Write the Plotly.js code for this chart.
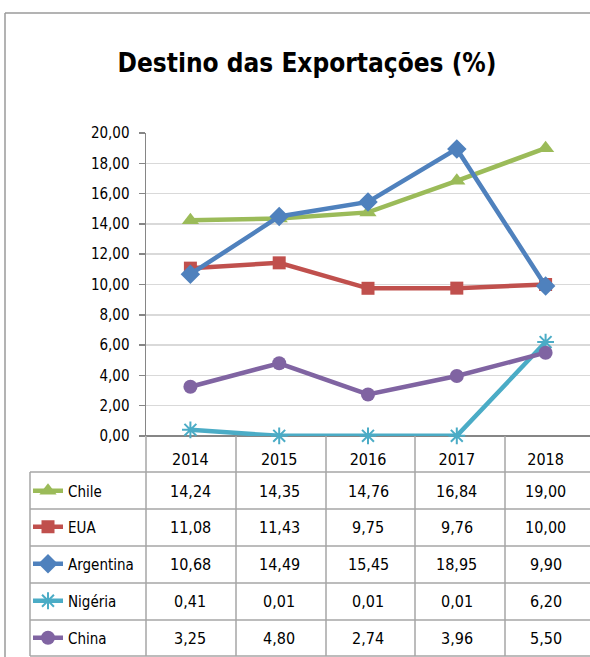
<!DOCTYPE html>
<html><head><meta charset="utf-8">
<script src="https://cdn.plot.ly/plotly-3.0.1.min.js"></script>
<style>html,body{margin:0;padding:0;background:#fff}#c{width:590px;height:657px}</style>
</head><body><div id="c"></div>
<script>
const years = ['2014','2015','2016','2017','2018'];
const seriesNames = ['Chile','EUA','Argentina','Nigéria','China'];
const chile = [14.24, 14.35, 14.76, 16.84, 19.00];
const eua = [11.08, 11.43, 9.75, 9.76, 10.00];
const argentina = [10.68, 14.49, 15.45, 18.95, 9.90];
const nigeria = [0.41, 0.01, 0.01, 0.01, 6.20];
const china = [3.25, 4.80, 2.74, 3.96, 5.50];
const yTicks = [0,2,4,6,8,10,12,14,16,18,20];

const values = [chile, eua, argentina, nigeria, china];
const colors = ['#9BBB59','#C0504D','#4F81BD','#4BACC6','#8064A2'];
const symbols = ['triangle-up','square','diamond','asterisk-open','circle'];
const msizes = [15,13,15,14,14];

const FONT = '"DejaVu Sans Condensed", "DejaVu Sans", sans-serif';
const L = 146, T = 133, PW = 444, PH = 303, W = 590, H = 657;
const px = p => (p - L) / PW;
const py = p => (T + PH - p) / PH;

const rowCenters = [491, 527, 564, 601, 638];
const traces = [];
const legends = {};
values.forEach((v, i) => {
  const lg = i === 0 ? 'legend' : 'legend' + (i + 1);
  traces.push({
    type: 'scatter', mode: 'lines+markers', x: years, y: v, name: seriesNames[i],
    line: {color: colors[i], width: 4.5},
    marker: {symbol: symbols[i], size: msizes[i], color: colors[i],
             line: {color: colors[i], width: i === 3 ? 2 : 0}},
    legend: lg, cliponaxis: false
  });
  legends[lg] = {
    x: px(28), y: py(rowCenters[i]), xanchor: 'left', yanchor: 'middle',
    bgcolor: 'rgba(0,0,0,0)', borderwidth: 0, itemwidth: 30,
    font: {family: FONT, size: 15, color: '#000'}
  };
});

const fmt = n => n.toFixed(2).replace('.', ',');
const annotations = [];
values.forEach((v, i) => {
  v.forEach((val, j) => {
    annotations.push({
      xref: 'x', yref: 'paper', x: j, y: py(rowCenters[i]),
      text: fmt(val), showarrow: false, xanchor: 'center', yanchor: 'middle',
      font: {family: FONT, size: 16, color: '#000'}
    });
  });
});

const gridCol = '#A6A6A6';
const shapes = [];
const hLines = [472, 509, 546, 583, 620, 656];
hLines.forEach(p => shapes.push({type: 'line', xref: 'paper', yref: 'paper',
  x0: px(30), x1: 1, y0: py(p), y1: py(p), line: {color: gridCol, width: 1.5}}));
shapes.push({type: 'line', xref: 'paper', yref: 'paper',
  x0: px(30), x1: px(30), y0: py(472), y1: py(656), line: {color: gridCol, width: 1.5}});
[146, 236, 326, 415, 505].forEach(p => shapes.push({type: 'line', xref: 'paper', yref: 'paper',
  x0: px(p), x1: px(p), y0: 0, y1: py(656), line: {color: gridCol, width: 1.5}}));
// outer chart frame
shapes.push({type: 'line', xref: 'paper', yref: 'paper', x0: px(5), x1: px(5), y0: py(13), y1: py(657), line: {color: '#9A9A9A', width: 1.5}});
shapes.push({type: 'line', xref: 'paper', yref: 'paper', x0: px(5), x1: 1.02, y0: py(13), y1: py(13), line: {color: '#9A9A9A', width: 1.5}});

const layout = {
  width: W, height: H,
  margin: {l: L, r: W - L - PW, t: T, b: H - T - PH},
  paper_bgcolor: '#fff', plot_bgcolor: '#fff',
  separators: ',.',
  showlegend: true,
  title: {text: '<b>Destino das Exportações (%)</b>', x: 307 / W, xref: 'container', xanchor: 'center',
          y: 1 - 63 / H, yref: 'container', yanchor: 'middle',
          font: {family: FONT, size: 26, color: '#000'}},
  xaxis: {type: 'category', range: [-0.5, 4.5], showgrid: false, zeroline: false,
          showline: false, ticks: '', ticklabelstandoff: 12,
          tickfont: {family: FONT, size: 16, color: '#000'}, fixedrange: true},
  yaxis: {range: [0, 20], tickvals: yTicks, tickformat: '.2f', showgrid: true,
          gridcolor: '#D9D9D9', gridwidth: 1.5, zeroline: true, zerolinecolor: '#868686', zerolinewidth: 1.5,
          showline: true, linecolor: '#868686', linewidth: 1.5, ticks: 'outside', ticklen: 6,
          tickcolor: '#868686', tickwidth: 1.5, ticklabelstandoff: 6,
          tickfont: {family: FONT, size: 15, color: '#000'}, fixedrange: true},
  annotations: annotations, shapes: shapes
};
Object.assign(layout, legends);
Plotly.newPlot('c', traces, layout, {displayModeBar: false, staticPlot: true});
</script></body></html>
